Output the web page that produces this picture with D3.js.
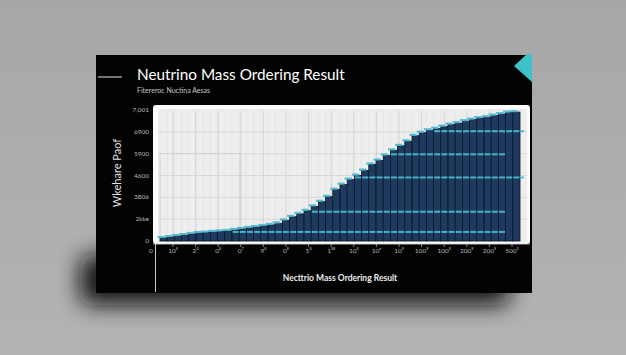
<!DOCTYPE html>
<html>
<head>
<meta charset="utf-8">
<script src="https://cdn.jsdelivr.net/npm/d3@7"></script>
<style>
  html, body { margin: 0; padding: 0; background: #a9a9a9; }
  svg { display: block; font-family: Lato, "Open Sans", sans-serif; }
</style>
</head>
<body>
<svg id="chart"></svg>
<script>
// values
const barValues = [140, 185, 230, 275, 325, 370, 390, 415, 440, 460,
    510, 555, 600, 645, 690, 740, 810, 945, 1110, 1245,
    1385, 1590, 1800, 2030, 2355, 2585, 2815, 3000, 3230, 3510,
    3690, 3920, 4155, 4360, 4570, 4820, 4960, 5075, 5145, 5240,
    5330, 5400, 5490, 5560, 5630, 5675, 5745, 5815, 5885, 5905];
const levelValues = [5030, 3970, 2910, 1340, 415];
const levelLastBar = [49, 47, 49, 47, 47];
const yTickValues = [0, 1000, 2000, 3000, 4000, 5000, 6000];
const yTickLabels = ['0', '2kke', '3806', '4600', '5900', '6900', '7,001'];
const xLabels = ['10⁵', '2⁰', '0⁰', '0⁷', '9⁰', '0⁸', '5⁰', '1⁵⁸', '10⁰', '10ⁿ',
    '10⁹', '100⁹', '100⁰', '200⁹', '200⁹', '500³'];
const title = 'Neutrino Mass Ordering Result';
const subtitle = 'Fitereroc Nuctina Aesas';
const ylabel = 'Wkehare Paof';
const xlabel = 'Necttrio Mass Ordering Result';

const W = 626, H = 355;
const svg = d3.select('#chart').attr('width', W).attr('height', H);

//背景
const defs = svg.append('defs');
const bg = defs.append('linearGradient').attr('id', 'bg').attr('x1', 0).attr('y1', 0).attr('x2', 0).attr('y2', 1);
bg.append('stop').attr('offset', '0%').attr('stop-color', '#a7a7a7');
bg.append('stop').attr('offset', '100%').attr('stop-color', '#b3b3b3');
svg.append('rect').attr('width', W).attr('height', H).attr('fill', 'url(#bg)');

const blur = defs.append('filter').attr('id', 'blur')
    .attr('x', '-30%').attr('y', '-60%').attr('width', '160%').attr('height', '220%');
blur.append('feGaussianBlur').attr('stdDeviation', 11);

// shadow under the card
svg.append('rect')
    .attr('x', 80).attr('y', 255)
    .attr('width', 430).attr('height', 50)
    .attr('rx', 12)
    .attr('fill', '#111')
    .attr('opacity', 0.95)
    .attr('filter', 'url(#blur)');

// card
const card = {x: 96, y: 55, w: 436, h: 238};
svg.append('rect')
    .attr('x', card.x).attr('y', card.y)
    .attr('width', card.w).attr('height', card.h)
    .attr('fill', '#030303');

svg.append('polygon')
    .attr('points', '514,66 527,54 532,54 532,82')
    .attr('fill', '#3fc1c9');

// header
svg.append('line').attr('x1', 98).attr('x2', 122).attr('y1', 77).attr('y2', 77)
    .attr('stroke', '#e6e6e6').attr('stroke-width', 1);
svg.append('text').attr('x', 137).attr('y', 80)
    .attr('fill', '#ffffff').style('font-size', '15.3px')
    .text(title);
svg.append('text').attr('x', 137).attr('y', 93)
    .attr('fill', '#c4c4c4').style('font-size', '7px')
    .text(subtitle);

// plot frame
const plot = {left: 160, right: 520, top: 110, bottom: 241};
svg.append('rect').attr('x', 153).attr('y', 105).attr('width', 377).attr('height', 139)
    .attr('rx', 3).attr('fill', '#fbfbfb');
svg.append('rect').attr('x', 158).attr('y', 111).attr('width', 369).attr('height', 131)
    .attr('fill', '#eeeeee');

//scale定義
const xscale = d3.scaleBand()
    .domain(d3.range(barValues.length))
    .range([plot.left, plot.right])
    .padding(0);
const yscale = d3.scaleLinear()
    .domain([0, 6000])
    .range([plot.bottom, plot.top]);
const xlab = d3.scalePoint()
    .domain(xLabels.map((d, i) => i))
    .range([173, 512]);

const grid = svg.append('g');
grid.selectAll('.vminor')
    .data(d3.range(barValues.length + 1))
    .join('line')
    .attr('x1', d => plot.left + d * xscale.bandwidth())
    .attr('x2', d => plot.left + d * xscale.bandwidth())
    .attr('y1', 111).attr('y2', 242)
    .attr('stroke', '#e0e0e0').attr('stroke-width', 0.6);
grid.selectAll('.vmajor')
    .data(xLabels.map((d, i) => i))
    .join('line')
    .attr('x1', d => xlab(d)).attr('x2', d => xlab(d))
    .attr('y1', 111).attr('y2', 242)
    .attr('stroke', '#cdcdcd').attr('stroke-width', 0.8);
grid.selectAll('.hline')
    .data(yTickValues.slice(1))
    .join('line')
    .attr('x1', 158).attr('x2', 527)
    .attr('y1', d => yscale(d)).attr('y2', d => yscale(d))
    .attr('stroke', '#d4d4d4').attr('stroke-width', 0.8);
grid.append('rect')
    .attr('x', 160).attr('y', yscale(4000))
    .attr('width', 80).attr('height', plot.bottom - yscale(4000))
    .attr('fill', 'none').attr('stroke', '#d0d0d0').attr('stroke-width', 0.8);

// bars
const bars = svg.append('g');
bars.selectAll('.bar')
    .data(barValues)
    .join('rect')
    .attr('x', (d, i) => xscale(i))
    .attr('y', d => yscale(d))
    .attr('width', xscale.bandwidth())
    .attr('height', d => plot.bottom - yscale(d))
    .attr('fill', '#1f3a5f')
    .attr('stroke', '#0b1626')
    .attr('stroke-width', 0.8);

// teal cap on each bar
bars.selectAll('.cap')
    .data(barValues)
    .join('rect')
    .attr('x', (d, i) => xscale(i) - 2.5)
    .attr('y', d => yscale(d) - 2)
    .attr('width', xscale.bandwidth())
    .attr('height', 2.2)
    .attr('fill', '#46b6cf')
    .attr('opacity', 0.9);

// teal reference levels (only inside bars)
levelValues.forEach((lv, k) => {
    const segs = barValues.map((v, i) => ({v: v, i: i}))
        .filter(d => d.v > lv + 60 && d.i <= levelLastBar[k]);
    bars.selectAll('.lvl' + k)
        .data(segs)
        .join('rect')
        .attr('x', d => xscale(d.i) + 0.6)
        .attr('y', yscale(lv) - 1)
        .attr('width', xscale.bandwidth() - 1.2)
        .attr('height', 2)
        .attr('fill', '#3fb4cc');
    if (levelLastBar[k] === barValues.length - 1) {
        bars.append('rect')
            .attr('x', plot.right).attr('y', yscale(lv) - 0.8)
            .attr('width', 4).attr('height', 1.6)
            .attr('fill', '#3fb4cc');
    }
});

// axes
svg.append('line').attr('x1', 153).attr('x2', 530).attr('y1', 244).attr('y2', 244)
    .attr('stroke', '#d8d8d8').attr('stroke-width', 0.8);
svg.append('line').attr('x1', 155.5).attr('x2', 155.5).attr('y1', 244).attr('y2', 292)
    .attr('stroke', '#c8c8c8').attr('stroke-width', 1);

const xg = svg.append('g');
xg.selectAll('.tick')
    .data(xLabels.map((d, i) => i))
    .join('line')
    .attr('x1', d => xlab(d)).attr('x2', d => xlab(d))
    .attr('y1', 244).attr('y2', 247)
    .attr('stroke', '#bbbbbb').attr('stroke-width', 0.7);
xg.selectAll('.lab')
    .data(xLabels)
    .join('text')
    .attr('x', (d, i) => xlab(i))
    .attr('y', 253)
    .attr('text-anchor', 'middle')
    .attr('fill', '#b5b5b5')
    .style('font-size', '6.5px')
    .text(d => d);
xg.append('text').attr('x', 151).attr('y', 253)
    .attr('text-anchor', 'middle').attr('fill', '#b5b5b5')
    .style('font-size', '6.5px').text('0');

const yg = svg.append('g');
yg.selectAll('.lab')
    .data(yTickValues)
    .join('text')
    .attr('x', 149)
    .attr('y', d => yscale(d) + 2)
    .attr('text-anchor', 'end')
    .attr('fill', '#b5b5b5')
    .style('font-size', '6.5px')
    .text((d, i) => yTickLabels[i]);

svg.append('text')
    .attr('transform', 'translate(121, 173) rotate(-90)')
    .attr('text-anchor', 'middle')
    .attr('fill', '#e0e0e0')
    .style('font-size', '11px')
    .text(ylabel);

svg.append('text')
    .attr('x', 340).attr('y', 281)
    .attr('text-anchor', 'middle')
    .attr('fill', '#ececec')
    .style('font-size', '8.5px')
    .style('font-weight', 'bold')
    .text(xlabel);
</script>
</body>
</html>
